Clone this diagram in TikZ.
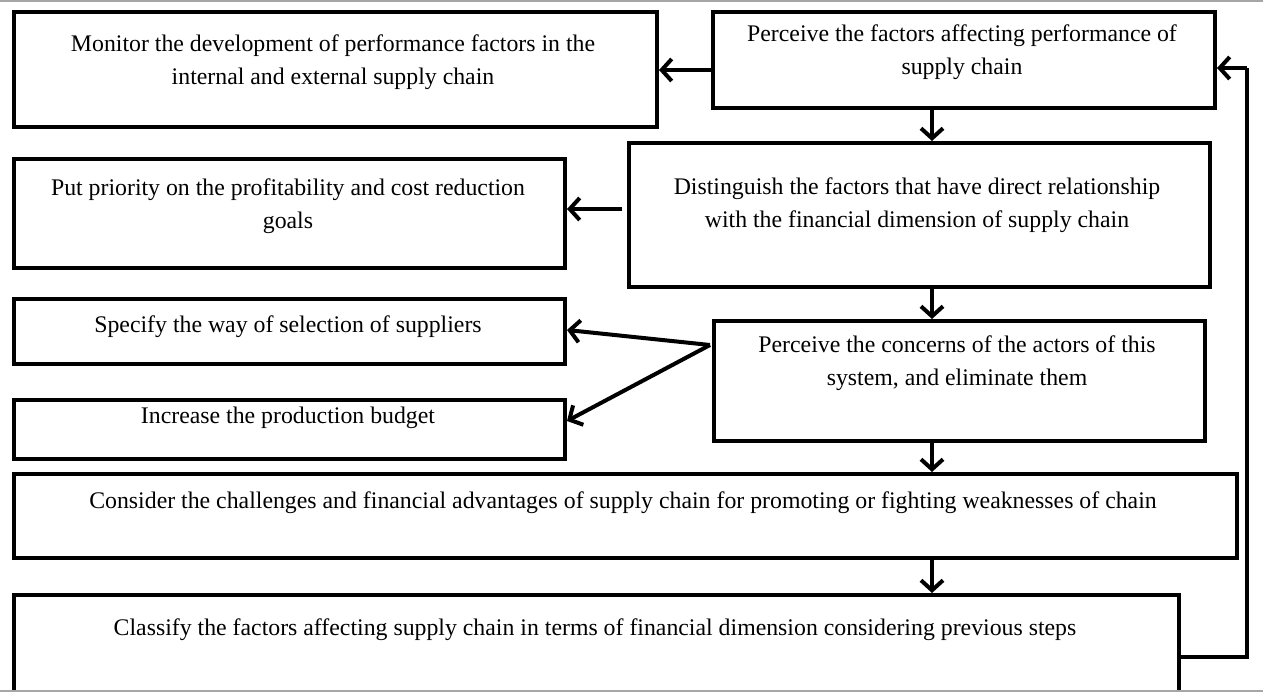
\documentclass[tikz,border=0pt]{standalone}
\usepackage{fontspec}
\setmainfont{Liberation Serif}
\usetikzlibrary{arrows.meta}
\begin{document}
\begin{tikzpicture}[x=1pt,y=-1pt,
  box/.style={draw=black,line width=4pt,rectangle,inner sep=0pt,anchor=north west},
  txt/.style={font=\fontsize{23.8}{32.5}\selectfont,align=center,inner sep=0pt},
  arr/.style={line width=4pt,-{Straight Barb[length=10pt,width=22pt]}},
  ln/.style={line width=4pt}]
\useasboundingbox (0,0) rectangle (1263,692);
\draw[gray!70,line width=1.2pt] (0,1) -- (1263,1);
% boxes
\node[box,minimum width=643pt,minimum height=115pt] (mon) at (12,10) {};
\node[box,minimum width=502pt,minimum height=96pt] (per) at (711,10) {};
\node[box,minimum width=551pt,minimum height=109pt] (pri) at (12,157) {};
\node[box,minimum width=581pt,minimum height=144pt] (dis) at (627,141) {};
\node[box,minimum width=551pt,minimum height=65pt] (spe) at (12,297) {};
\node[box,minimum width=551pt,minimum height=59pt] (inc) at (12,398) {};
\node[box,minimum width=491pt,minimum height=120pt] (con) at (712,319) {};
\node[box,minimum width=1223pt,minimum height=84pt] (cha) at (12,472) {};
\node[box,minimum width=1165pt,minimum height=110pt] (cla) at (12,593) {};
\draw[gray!70,line width=1.2pt] (0,691) -- (1263,691);
% texts
\node[txt] (tmon) at (333,62) {Monitor the development of performance factors in the\\internal and external supply chain};
\node[txt] (tper) at (962,52) {Perceive the factors affecting performance of\\supply chain};
\node[txt] (tpri) at (288,206) {Put priority on the profitability and cost reduction\\goals};
\node[txt] (tdis) at (917,205) {Distinguish the factors that have direct relationship\\with the financial dimension of supply chain};
\node[txt] (tspe) at (288,327) {Specify the way of selection of suppliers};
\node[txt] (tinc) at (288,418) {Increase the production budget};
\node[txt] (tcon) at (957,363) {Perceive the concerns of the actors of this\\system, and eliminate them};
\node[txt] (tcha) at (623,503) {Consider the challenges and financial advantages of supply chain for promoting or fighting weaknesses of chain};
\node[txt] (tcla) at (595,630) {Classify the factors affecting supply chain in terms of financial dimension considering previous steps};
% connectors
\draw[arr] (per.west |- 0,70) -- (mon.east |- 0,70);
\draw[arr] (per.south -| 932,0) -- (dis.north -| 932,0);
\draw[arr] ([xshift=-5pt]dis.west |- 0,209) -- (pri.east |- 0,209);
\draw[arr] (dis.south -| 932,0) -- (con.north -| 932,0);
\coordinate (src) at (710,345);
\draw[arr] (src) -- (spe.east |- 0,330);
\draw[arr] (src) -- (inc.east |- 0,421);
\draw[arr] (con.south -| 932,0) -- (cha.north -| 932,0);
\draw[arr] (cha.south -| 932,0) -- (cla.north -| 932,0);
\coordinate (lp1) at (1247,657);
\coordinate (lp2) at (1247,68);
\draw[ln,line join=miter] (cla.east |- lp1) -- (lp1) -- (lp2);
\draw[arr] (lp2) -- (per.east |- lp2);
\end{tikzpicture}
\end{document}
